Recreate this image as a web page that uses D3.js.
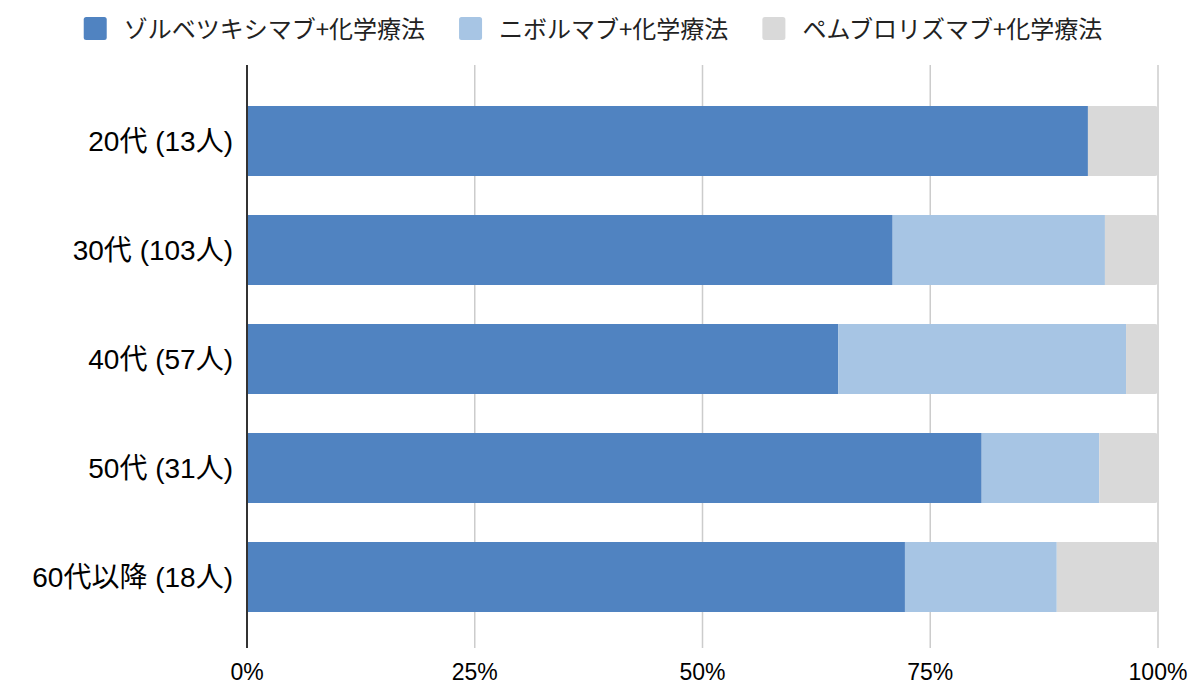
<!DOCTYPE html>
<html>
<head>
<meta charset="utf-8">
<script src="https://cdn.jsdelivr.net/npm/d3@7"></script>
<style>
  html, body { margin: 0; padding: 0; background: #fff; }
</style>
</head>
<body>
<div id="chart"></div>
<script>
// patient counts per age group
var ageGroups = ["20代 (13人)", "30代 (103人)", "40代 (57人)", "50代 (31人)", "60代以降 (18人)"];
var zolbetuximab = [12, 73, 37, 25, 13];
var nivolumab = [0, 24, 18, 4, 3];
var pembrolizumab = [1, 6, 2, 2, 2];
var seriesNames = ["ゾルベツキシマブ+化学療法", "ニボルマブ+化学療法", "ペムブロリズマブ+化学療法"];
var seriesColors = ["#5083c1", "#a7c5e4", "#d9d9d9"];
var tickValues = [0, 0.25, 0.5, 0.75, 1];

var width = 1194, height = 698;
var plot = {left: 247, right: 1158, top: 65, bottom: 648};
var latinFont = "'Liberation Sans', Arial, 'Noto Sans CJK JP', sans-serif";
var cjkFont = "'Noto Sans CJK JP', 'Noto Sans', sans-serif";

var svg = d3.select("#chart").append("svg")
  .attr("width", width)
  .attr("height", height);

var rows = ageGroups.map(function(g, i) {
  var vals = [zolbetuximab[i], nivolumab[i], pembrolizumab[i]];
  var total = d3.sum(vals);
  var x0 = 0;
  var segs = vals.map(function(v, k) {
    var s = {group: g, key: k, from: x0 / total, to: (x0 + v) / total, v: v};
    x0 += v;
    return s;
  });
  return {group: g, segs: segs.filter(function(s) { return s.v > 0; })};
});

var x = d3.scaleLinear().domain([0, 1]).range([plot.left, plot.right]);
var y = d3.scaleBand().domain(ageGroups)
  .range([86.5, 631.5])
  .paddingInner(0.358)
  .paddingOuter(0.179);

// vertical grid lines
svg.append("g").selectAll("line")
  .data(tickValues.slice(1))
  .enter().append("line")
    .attr("x1", function(d) { return x(d); })
    .attr("x2", function(d) { return x(d); })
    .attr("y1", plot.top)
    .attr("y2", plot.bottom)
    .attr("stroke", "#cccccc")
    .attr("stroke-width", 1.5);

// bar segments, last one in each row gets rounded right corners
function segPath(s, isLast) {
  var x1 = x(s.from), x2 = x(s.to), y1 = y(s.group), h = y.bandwidth();
  var r = isLast ? 3 : 0;
  return "M" + x1 + "," + y1 +
    "H" + (x2 - r) +
    (r ? "Q" + x2 + "," + y1 + " " + x2 + "," + (y1 + r) : "") +
    "V" + (y1 + h - r) +
    (r ? "Q" + x2 + "," + (y1 + h) + " " + (x2 - r) + "," + (y1 + h) : "") +
    "H" + x1 + "Z";
}

var rowG = svg.append("g").selectAll("g")
  .data(rows)
  .enter().append("g");

rowG.selectAll("path")
  .data(function(d) { return d.segs.map(function(s, i) { return {s: s, last: i == d.segs.length - 1}; }); })
  .enter().append("path")
    .attr("d", function(d) { return segPath(d.s, d.last); })
    .attr("fill", function(d) { return seriesColors[d.s.key]; });

// baseline axis at 0%
svg.append("line")
  .attr("x1", x(0)).attr("x2", x(0))
  .attr("y1", plot.top).attr("y2", plot.bottom)
  .attr("stroke", "#333333")
  .attr("stroke-width", 2);

// category labels
svg.append("g").selectAll("text")
  .data(ageGroups)
  .enter().append("text")
    .attr("x", 233)
    .attr("y", function(d) { return y(d) + y.bandwidth() / 2; })
    .attr("dy", "0.36em")
    .attr("text-anchor", "end")
    .attr("font-family", latinFont)
    .attr("font-size", 28)
    .attr("fill", "#000")
    .text(function(d) { return d; });

// percent tick labels
svg.append("g").selectAll("text")
  .data(tickValues)
  .enter().append("text")
    .attr("x", function(d) { return x(d); })
    .attr("y", 680)
    .attr("text-anchor", "middle")
    .attr("font-family", latinFont)
    .attr("font-size", 23)
    .attr("fill", "#000")
    .text(d3.format(".0%"));

// legend, laid out left to right then centred
var legend = svg.append("g");
var lx = 0;
seriesNames.forEach(function(name, i) {
  var item = legend.append("g").attr("transform", "translate(" + lx + ",0)");
  item.append("rect")
    .attr("x", 0).attr("y", 17)
    .attr("width", 23).attr("height", 23)
    .attr("rx", 2.5)
    .attr("fill", seriesColors[i]);
  var t = item.append("text")
    .attr("x", 40)
    .attr("y", 29)
    .attr("dy", "0.36em")
    .attr("font-family", cjkFont)
    .attr("font-size", 24)
    .attr("fill", "#222")
    .text(name);
  lx += 40 + t.node().getComputedTextLength() + 34;
});
var lw = lx - 34;
legend.attr("transform", "translate(" + (593 - lw / 2) + ",0)");
</script>
</body>
</html>
